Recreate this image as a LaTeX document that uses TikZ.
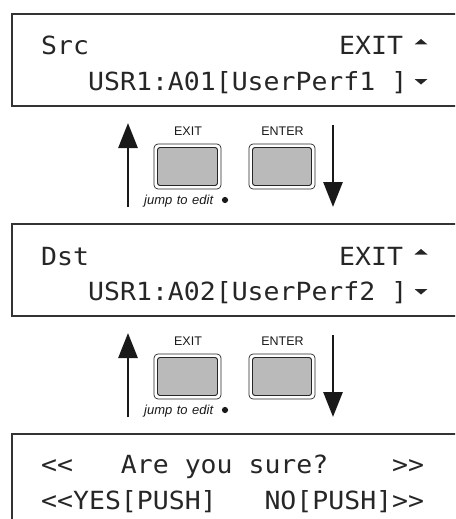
\documentclass[tikz,border=0pt]{standalone}
\usepackage{fontspec}
\setmainfont{Liberation Sans}
\newfontfamily\lcd[FakeStretch=1.06]{DejaVu Sans Mono}
\usetikzlibrary{arrows.meta}
\begin{document}
\begin{tikzpicture}[x=1pt,y=-1pt,
  lcdbox/.style={draw=black!80,line width=1.3pt},
  lcdtext/.style={anchor=base west,inner sep=0pt,font=\lcd\fontsize{25}{26}\selectfont,text=black!85},
  btnouter/.style={draw=black!85,line width=0.7pt,fill=white,rounded corners=4pt},
  btninner/.style={draw=black!85,line width=0.9pt,fill=black!27,rounded corners=2.5pt},
  btnlabel/.style={font=\fontsize{12.5}{14}\selectfont,inner sep=0pt,anchor=base,text=black!90},
  jumplabel/.style={font=\itshape\fontsize{13}{14}\selectfont,inner sep=0pt,anchor=base west,text=black!90},
  flowarrow/.style={line width=2.8pt,draw=black!90,-{Triangle[width=19pt,length=25pt]}},
  tri/.style={fill=black!85}]
\useasboundingbox (0,0) rectangle (455,519);
\clip (0,0) rectangle (455,519);
% LCD screens
\draw[lcdbox] (12,14) rectangle (480,106);
\draw[lcdbox] (12,224) rectangle (480,316);
\draw[lcdbox] (12,434) rectangle (480,540);
% screen 1
\node[lcdtext] (src) at (41,55) {Src};
\node[lcdtext] (exitA) at (339,55) {EXIT};
\fill[tri] (414.5,44.5) -- (427.5,44.5) -- (421,39) -- cycle;
\node[lcdtext] (usrA) at (88,90) {USR1:A01[UserPerf1~]};
\fill[tri] (414.5,79) -- (427.5,79) -- (421,84.5) -- cycle;
% screen 2
\node[lcdtext] (dst) at (41,265) {Dst};
\node[lcdtext] (exitB) at (339,265) {EXIT};
\fill[tri] (414.5,254.5) -- (427.5,254.5) -- (421,249) -- cycle;
\node[lcdtext] (usrB) at (88,300) {USR1:A02[UserPerf2~]};
\fill[tri] (414.5,289) -- (427.5,289) -- (421,294.5) -- cycle;
% screen 3
\node[lcdtext] (sure) at (41,473) {<<~~~Are~you~sure?~~~~>>};
\node[lcdtext] (push) at (41,509) {<<YES[PUSH]~~~NO[PUSH]>>};
% buttons and arrows
\foreach \k/\dy in {1/0,2/210}{
  \coordinate (up\k s) at (128,{207+\dy});
  \coordinate (up\k e) at (128,{123+\dy});
  \coordinate (dn\k s) at (333,{125+\dy});
  \coordinate (dn\k e) at (333,{207+\dy});
  \draw[flowarrow] (up\k s) -- (up\k e);
  \draw[flowarrow] (dn\k s) -- (dn\k e);
  \draw[btnouter] (154,{144+\dy}) rectangle (221,{189+\dy});
  \draw[btninner] (157.5,{147.5+\dy}) rectangle (217.5,{185.5+\dy});
  \draw[btnouter] (249,{144+\dy}) rectangle (315,{189+\dy});
  \draw[btninner] (252.5,{147.5+\dy}) rectangle (311.5,{185.5+\dy});
  \node[btnlabel] (exitlab\k) at (188,{135+\dy}) {EXIT};
  \node[btnlabel] (enterlab\k) at (282.5,{135+\dy}) {ENTER};
  \node[jumplabel] (jump\k) at (144,{204+\dy}) {jump\hspace{4.5pt}to\hspace{4.5pt}edit};
  \fill[black!90] (225,{200+\dy}) circle (3.1);
}
\end{tikzpicture}
\end{document}
